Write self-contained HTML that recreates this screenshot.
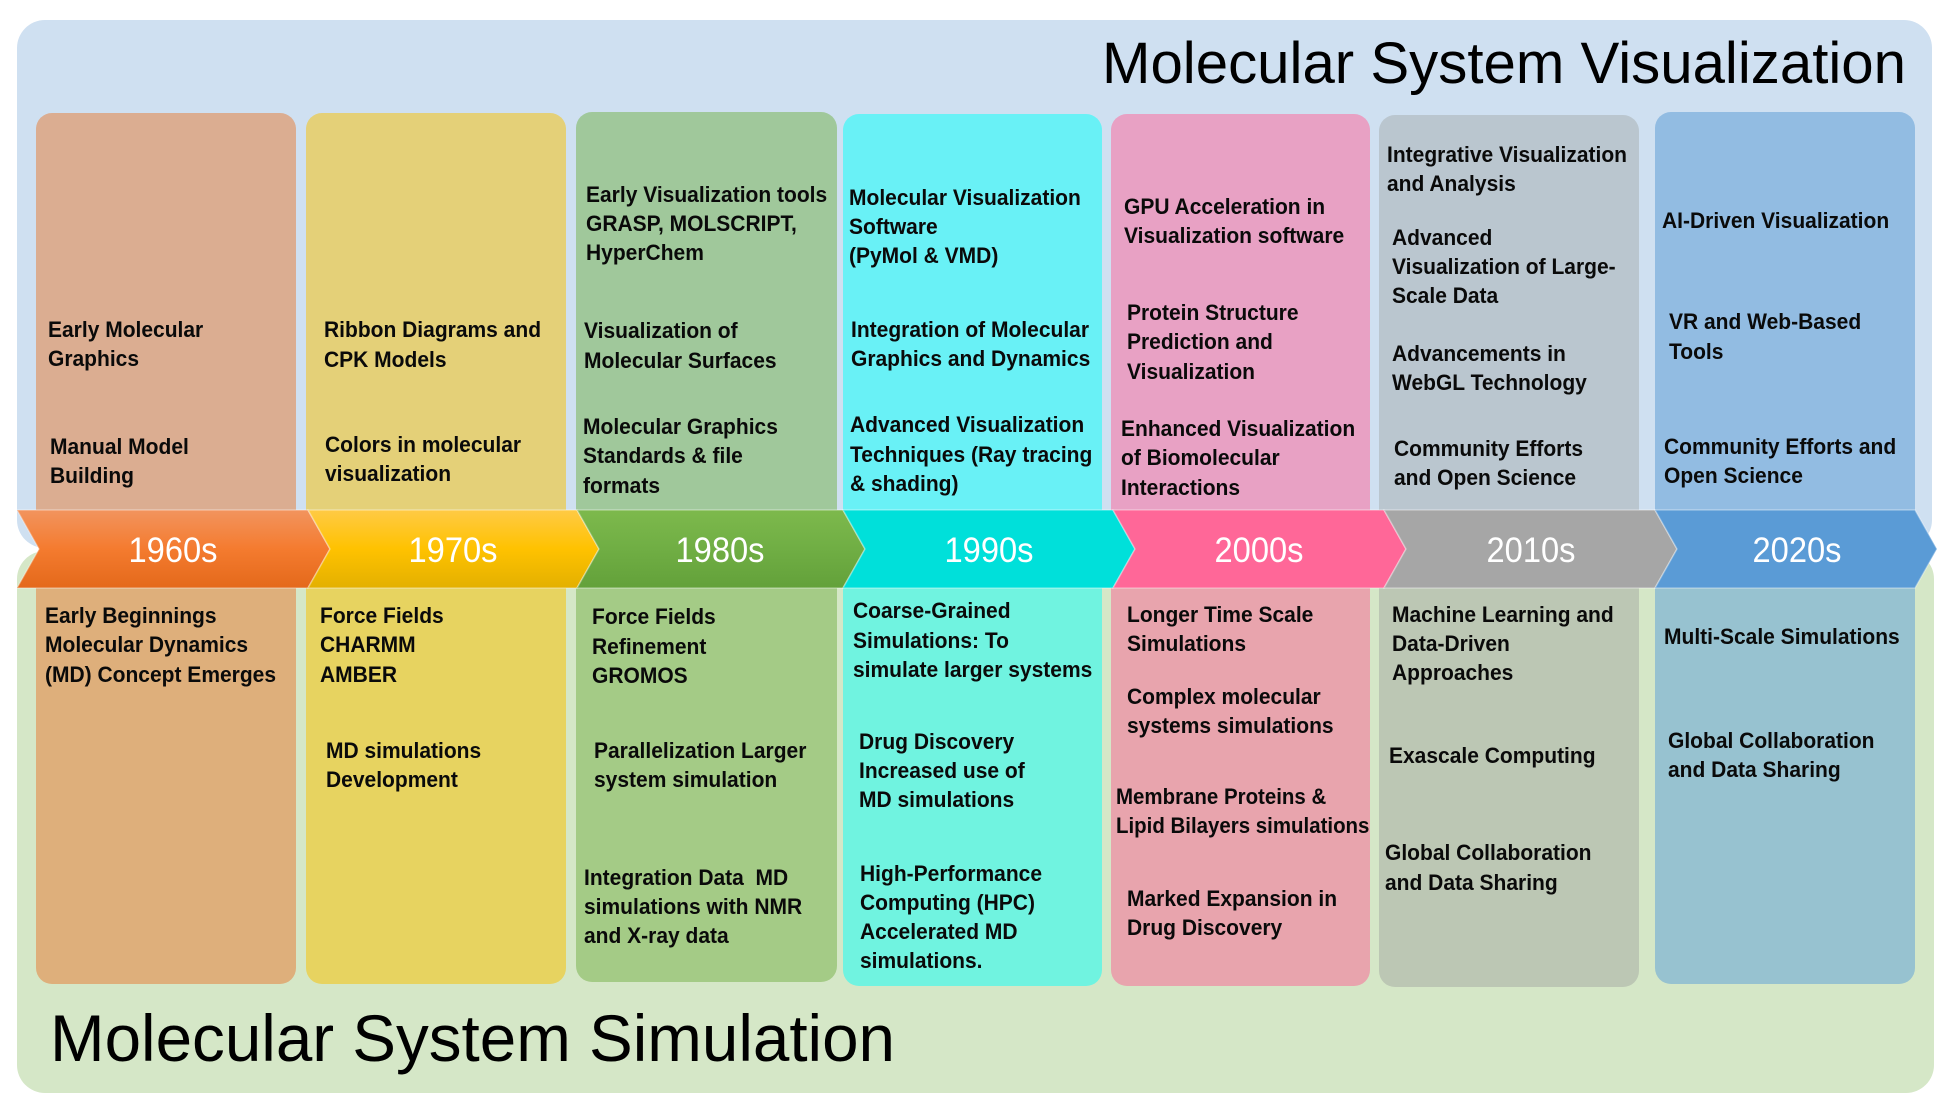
<!DOCTYPE html>
<html><head><meta charset="utf-8"><style>
html,body{margin:0;padding:0;background:#fff;}
svg{display:block;}
.b{font-family:"Liberation Sans",Arial,sans-serif;font-weight:bold;font-size:22px;fill:#0a0a0a;}
.y{font-family:"Liberation Sans",Arial,sans-serif;font-size:35px;fill:#fff;}
.t{font-family:"Liberation Sans",Arial,sans-serif;fill:#000;}
</style></head><body>
<svg width="1952" height="1108" viewBox="0 0 1952 1108" xmlns="http://www.w3.org/2000/svg">
<defs>
<linearGradient id="g1" x1="0" y1="0" x2="0" y2="1"><stop offset="0" stop-color="#f2945e"/><stop offset="0.5" stop-color="#f47b2f"/><stop offset="1" stop-color="#e4691b"/></linearGradient>
<linearGradient id="g2" x1="0" y1="0" x2="0" y2="1"><stop offset="0" stop-color="#ffca45"/><stop offset="0.5" stop-color="#ffc200"/><stop offset="1" stop-color="#e3b000"/></linearGradient>
<linearGradient id="g3" x1="0" y1="0" x2="0" y2="1"><stop offset="0" stop-color="#7db94c"/><stop offset="0.5" stop-color="#70ae44"/><stop offset="1" stop-color="#63a13a"/></linearGradient>
</defs>
<rect x="17" y="20" width="1915" height="528" rx="28" fill="#cfe0f1"/>
<rect x="17" y="551" width="1917" height="542" rx="28" fill="#d5e7c7"/>

<!-- top boxes -->
<path d="M36,129 a16,16 0 0 1 16,-16 h228 a16,16 0 0 1 16,16 V520 H36 Z" fill="#dbad91"/>
<path d="M306,129 a16,16 0 0 1 16,-16 h228 a16,16 0 0 1 16,16 V520 H306 Z" fill="#e4d078"/>
<path d="M576,128 a16,16 0 0 1 16,-16 h229 a16,16 0 0 1 16,16 V520 H576 Z" fill="#a0c89b"/>
<path d="M843,130 a16,16 0 0 1 16,-16 h227 a16,16 0 0 1 16,16 V520 H843 Z" fill="#69f1f6"/>
<path d="M1111,130 a16,16 0 0 1 16,-16 h227 a16,16 0 0 1 16,16 V520 H1111 Z" fill="#e8a1c4"/>
<path d="M1379,131 a16,16 0 0 1 16,-16 h228 a16,16 0 0 1 16,16 V520 H1379 Z" fill="#bac6cf"/>
<path d="M1655,128 a16,16 0 0 1 16,-16 h228 a16,16 0 0 1 16,16 V520 H1655 Z" fill="#92bce2"/>

<!-- bottom boxes -->
<path d="M36,580 H296 V968 a16,16 0 0 1 -16,16 H52 a16,16 0 0 1 -16,-16 Z" fill="#deaf7b"/>
<path d="M306,580 H566 V968 a16,16 0 0 1 -16,16 H322 a16,16 0 0 1 -16,-16 Z" fill="#e7d360"/>
<path d="M576,580 H837 V966 a16,16 0 0 1 -16,16 H592 a16,16 0 0 1 -16,-16 Z" fill="#a4cb86"/>
<path d="M843,580 H1102 V970 a16,16 0 0 1 -16,16 H859 a16,16 0 0 1 -16,-16 Z" fill="#70f3e0"/>
<path d="M1111,580 H1370 V970 a16,16 0 0 1 -16,16 H1127 a16,16 0 0 1 -16,-16 Z" fill="#e8a4ad"/>
<path d="M1379,580 H1639 V971 a16,16 0 0 1 -16,16 H1395 a16,16 0 0 1 -16,-16 Z" fill="#bcc7b4"/>
<path d="M1655,580 H1915 V968 a16,16 0 0 1 -16,16 H1671 a16,16 0 0 1 -16,-16 Z" fill="#97c2d0"/>

<!-- arrows -->
<g stroke="#ffffff" stroke-opacity="0.35" stroke-width="1.5">
<polygon points="17,510 308,510 330,549 308,588 17,588 39,549" fill="url(#g1)"/>
<polygon points="308,510 577,510 599,549 577,588 308,588 330,549" fill="url(#g2)"/>
<polygon points="577,510 843,510 865,549 843,588 577,588 599,549" fill="url(#g3)"/>
<polygon points="843,510 1113,510 1135,549 1113,588 843,588 865,549" fill="#00e0da"/>
<polygon points="1113,510 1384,510 1406,549 1384,588 1113,588 1135,549" fill="#ff6798"/>
<polygon points="1384,510 1655,510 1677,549 1655,588 1384,588 1406,549" fill="#a6a6a6"/>
<polygon points="1655,510 1915,510 1937,549 1915,588 1655,588 1677,549" fill="#5a9bd6"/>
</g>
<text class="y" x="173" y="562" text-anchor="middle" textLength="89" lengthAdjust="spacingAndGlyphs">1960s</text>
<text class="y" x="453" y="562" text-anchor="middle" textLength="89" lengthAdjust="spacingAndGlyphs">1970s</text>
<text class="y" x="720" y="562" text-anchor="middle" textLength="89" lengthAdjust="spacingAndGlyphs">1980s</text>
<text class="y" x="989" y="562" text-anchor="middle" textLength="89" lengthAdjust="spacingAndGlyphs">1990s</text>
<text class="y" x="1259" y="562" text-anchor="middle" textLength="89" lengthAdjust="spacingAndGlyphs">2000s</text>
<text class="y" x="1531" y="562" text-anchor="middle" textLength="89" lengthAdjust="spacingAndGlyphs">2010s</text>
<text class="y" x="1797" y="562" text-anchor="middle" textLength="89" lengthAdjust="spacingAndGlyphs">2020s</text>

<!-- titles -->
<text class="t" x="1102" y="83" font-size="58" textLength="804" lengthAdjust="spacingAndGlyphs">Molecular System Visualization</text>
<text class="t" x="50" y="1061" font-size="66" textLength="845" lengthAdjust="spacingAndGlyphs">Molecular System Simulation</text>

<!-- top text -->
<g transform="translate(48 0) scale(0.955 1)"><text class="b"><tspan x="0" y="337">Early Molecular</tspan><tspan x="0" y="366">Graphics</tspan></text></g>
<g transform="translate(50 0) scale(0.955 1)"><text class="b"><tspan x="0" y="454">Manual Model</tspan><tspan x="0" y="483">Building</tspan></text></g>

<g transform="translate(324 0) scale(0.955 1)"><text class="b"><tspan x="0" y="337">Ribbon Diagrams and</tspan><tspan x="0" y="367">CPK Models</tspan></text></g>
<g transform="translate(325 0) scale(0.955 1)"><text class="b"><tspan x="0" y="452">Colors in molecular</tspan><tspan x="0" y="481">visualization</tspan></text></g>

<g transform="translate(586 0) scale(0.955 1)"><text class="b"><tspan x="0" y="202">Early Visualization tools</tspan><tspan x="0" y="231">GRASP, MOLSCRIPT,</tspan><tspan x="0" y="260">HyperChem</tspan></text></g>
<g transform="translate(584 0) scale(0.955 1)"><text class="b"><tspan x="0" y="338">Visualization of</tspan><tspan x="0" y="368">Molecular Surfaces</tspan></text></g>
<g transform="translate(583 0) scale(0.955 1)"><text class="b"><tspan x="0" y="434">Molecular Graphics</tspan><tspan x="0" y="463">Standards &amp; file</tspan><tspan x="0" y="493">formats</tspan></text></g>

<g transform="translate(849 0) scale(0.955 1)"><text class="b"><tspan x="0" y="205">Molecular Visualization</tspan><tspan x="0" y="234">Software</tspan><tspan x="0" y="263">(PyMol &amp; VMD)</tspan></text></g>
<g transform="translate(851 0) scale(0.955 1)"><text class="b"><tspan x="0" y="337">Integration of Molecular</tspan><tspan x="0" y="366">Graphics and Dynamics</tspan></text></g>
<g transform="translate(850 0) scale(0.955 1)"><text class="b"><tspan x="0" y="432">Advanced Visualization</tspan><tspan x="0" y="462">Techniques (Ray tracing</tspan><tspan x="0" y="491">&amp; shading)</tspan></text></g>

<g transform="translate(1124 0) scale(0.955 1)"><text class="b"><tspan x="0" y="214">GPU Acceleration in</tspan><tspan x="0" y="243">Visualization software</tspan></text></g>
<g transform="translate(1127 0) scale(0.955 1)"><text class="b"><tspan x="0" y="320">Protein Structure</tspan><tspan x="0" y="349">Prediction and</tspan><tspan x="0" y="379">Visualization</tspan></text></g>
<g transform="translate(1121 0) scale(0.955 1)"><text class="b"><tspan x="0" y="436">Enhanced Visualization</tspan><tspan x="0" y="465">of Biomolecular</tspan><tspan x="0" y="495">Interactions</tspan></text></g>

<g transform="translate(1387 0) scale(0.955 1)"><text class="b"><tspan x="0" y="162">Integrative Visualization</tspan><tspan x="0" y="191">and Analysis</tspan></text></g>
<g transform="translate(1392 0) scale(0.955 1)"><text class="b"><tspan x="0" y="245">Advanced</tspan><tspan x="0" y="274">Visualization of Large-</tspan><tspan x="0" y="303">Scale Data</tspan></text></g>
<g transform="translate(1392 0) scale(0.955 1)"><text class="b"><tspan x="0" y="361">Advancements in</tspan><tspan x="0" y="390">WebGL Technology</tspan></text></g>
<g transform="translate(1394 0) scale(0.955 1)"><text class="b"><tspan x="0" y="456">Community Efforts</tspan><tspan x="0" y="485">and Open Science</tspan></text></g>

<g transform="translate(1662 0) scale(0.955 1)"><text class="b"><tspan x="0" y="228">AI-Driven Visualization</tspan></text></g>
<g transform="translate(1669 0) scale(0.955 1)"><text class="b"><tspan x="0" y="329">VR and Web-Based</tspan><tspan x="0" y="359">Tools</tspan></text></g>
<g transform="translate(1664 0) scale(0.955 1)"><text class="b"><tspan x="0" y="454">Community Efforts and</tspan><tspan x="0" y="483">Open Science</tspan></text></g>

<!-- bottom text -->
<g transform="translate(45 0) scale(0.955 1)"><text class="b"><tspan x="0" y="623">Early Beginnings</tspan><tspan x="0" y="652">Molecular Dynamics</tspan><tspan x="0" y="682">(MD) Concept Emerges</tspan></text></g>

<g transform="translate(320 0) scale(0.955 1)"><text class="b"><tspan x="0" y="623">Force Fields</tspan><tspan x="0" y="652">CHARMM</tspan><tspan x="0" y="682">AMBER</tspan></text></g>
<g transform="translate(326 0) scale(0.955 1)"><text class="b"><tspan x="0" y="758">MD simulations</tspan><tspan x="0" y="787">Development</tspan></text></g>

<g transform="translate(592 0) scale(0.955 1)"><text class="b"><tspan x="0" y="624">Force Fields</tspan><tspan x="0" y="654">Refinement</tspan><tspan x="0" y="683">GROMOS</tspan></text></g>
<g transform="translate(594 0) scale(0.955 1)"><text class="b"><tspan x="0" y="758">Parallelization Larger</tspan><tspan x="0" y="787">system simulation</tspan></text></g>
<g transform="translate(584 0) scale(0.955 1)"><text class="b"><tspan x="0" y="885">Integration Data&#160; MD</tspan><tspan x="0" y="914">simulations with NMR</tspan><tspan x="0" y="943">and X-ray data</tspan></text></g>

<g transform="translate(853 0) scale(0.955 1)"><text class="b"><tspan x="0" y="618">Coarse-Grained</tspan><tspan x="0" y="648">Simulations: To</tspan><tspan x="0" y="677">simulate larger systems</tspan></text></g>
<g transform="translate(859 0) scale(0.955 1)"><text class="b"><tspan x="0" y="749">Drug Discovery</tspan><tspan x="0" y="778">Increased use of</tspan><tspan x="0" y="807">MD simulations</tspan></text></g>
<g transform="translate(860 0) scale(0.955 1)"><text class="b"><tspan x="0" y="881">High-Performance</tspan><tspan x="0" y="910">Computing (HPC)</tspan><tspan x="0" y="939">Accelerated MD</tspan><tspan x="0" y="968">simulations.</tspan></text></g>

<g transform="translate(1127 0) scale(0.955 1)"><text class="b"><tspan x="0" y="622">Longer Time Scale</tspan><tspan x="0" y="651">Simulations</tspan></text></g>
<g transform="translate(1127 0) scale(0.955 1)"><text class="b"><tspan x="0" y="704">Complex molecular</tspan><tspan x="0" y="733">systems simulations</tspan></text></g>
<g transform="translate(1116 0) scale(0.93 1)"><text class="b"><tspan x="0" y="804">Membrane Proteins &amp;</tspan><tspan x="0" y="833">Lipid Bilayers simulations</tspan></text></g>
<g transform="translate(1127 0) scale(0.955 1)"><text class="b"><tspan x="0" y="906">Marked Expansion in</tspan><tspan x="0" y="935">Drug Discovery</tspan></text></g>

<g transform="translate(1392 0) scale(0.955 1)"><text class="b"><tspan x="0" y="622">Machine Learning and</tspan><tspan x="0" y="651">Data-Driven</tspan><tspan x="0" y="680">Approaches</tspan></text></g>
<g transform="translate(1389 0) scale(0.955 1)"><text class="b"><tspan x="0" y="763">Exascale Computing</tspan></text></g>
<g transform="translate(1385 0) scale(0.955 1)"><text class="b"><tspan x="0" y="860">Global Collaboration</tspan><tspan x="0" y="890">and Data Sharing</tspan></text></g>

<g transform="translate(1664 0) scale(0.955 1)"><text class="b"><tspan x="0" y="644">Multi-Scale Simulations</tspan></text></g>
<g transform="translate(1668 0) scale(0.955 1)"><text class="b"><tspan x="0" y="748">Global Collaboration</tspan><tspan x="0" y="777">and Data Sharing</tspan></text></g>
</svg>
</body></html>
